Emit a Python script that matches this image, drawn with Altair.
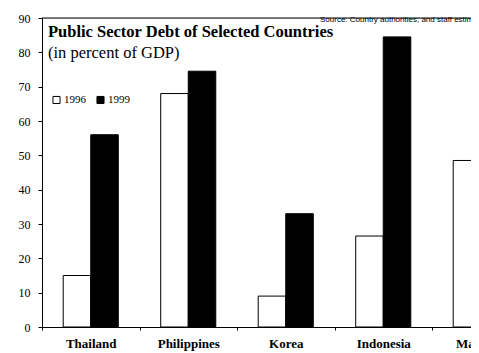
import altair as alt
import pandas as pd

countries = ["Thailand", "Philippines", "Korea", "Indonesia", "Malaysia"]
debt_1996 = [15, 68, 9, 26.5, 48.5]
debt_1999 = [56, 74.5, 33, 84.5, 54]
years = ["1996", "1999"]
y_ticks = [0, 10, 20, 30, 40, 50, 60, 70, 80, 90]

rows = []
for c, a, b in zip(countries, debt_1996, debt_1999):
    rows.append({"country": c, "year": "1996", "value": a})
    rows.append({"country": c, "year": "1999", "value": b})
df = pd.DataFrame(rows)

SERIF = "Liberation Serif"
FULL_W = 487.5  # full width of the (cropped) plot area

bars = alt.Chart(df).mark_bar(stroke="black", strokeWidth=1).encode(
    x=alt.X("country:N", sort=countries, title=None,
            scale=alt.Scale(paddingInner=0, paddingOuter=0, range=[0, FULL_W]),
            axis=alt.Axis(labelAngle=0, tickBand="extent", tickSize=3,
                          labelFont=SERIF, labelFontSize=13, labelFontWeight="bold",
                          labelPadding=7, labelColor="black", domainColor="black",
                          tickColor="black")),
    xOffset=alt.XOffset("year:N", scale=alt.Scale(domain=years, paddingInner=0, paddingOuter=0.77)),
    y=alt.Y("value:Q", title=None,
            scale=alt.Scale(domain=[0, 90], nice=False),
            axis=alt.Axis(values=y_ticks, grid=False, tickSize=4, labelPadding=8,
                          labelFont=SERIF, labelFontSize=12, labelColor="black",
                          domainColor="black", tickColor="black")),
    color=alt.Color("year:N", scale=alt.Scale(domain=years, range=["white", "black"]),
                    legend=alt.Legend(orient="none", legendX=9, legendY=76, direction="horizontal",
                                      title=None, symbolType="square", symbolSize=50,
                                      symbolStrokeColor="black", symbolStrokeWidth=1,
                                      labelFont=SERIF, labelFontSize=11, labelColor="black",
                                      columnPadding=8, labelOffset=2)),
)

one = pd.DataFrame([{"k": 0}])
top_line = alt.Chart(one).mark_rule(color="black", strokeWidth=1).encode(
    x=alt.value(0), x2=alt.value(FULL_W), y=alt.value(0))
title = alt.Chart(one).mark_text(text="Public Sector Debt of Selected Countries", font=SERIF,
                                 fontSize=16.5, fontWeight="bold", align="left", baseline="alphabetic",
                                 color="black").encode(x=alt.value(6), y=alt.value(19))
subtitle = alt.Chart(one).mark_text(text="(in percent of GDP)", font=SERIF, fontSize=16.5,
                                    align="left", baseline="alphabetic", color="black").encode(
    x=alt.value(6), y=alt.value(40))
source = alt.Chart(one).mark_text(text="Source: Country authorities; and staff estimates.",
                                  font="Liberation Sans", fontSize=8, align="left",
                                  baseline="alphabetic", color="black").encode(
    x=alt.value(278), y=alt.value(4))

chart = alt.layer(bars, top_line, title, subtitle, source).properties(
    width=429, height=309,
    autosize=alt.AutoSizeParams(type="none"),
    padding={"left": 34, "top": 10, "right": 0, "bottom": 26},
).configure_view(stroke=None).configure(background="white")

chart.save("out.html", embed_options={"renderer": "svg", "actions": False})
